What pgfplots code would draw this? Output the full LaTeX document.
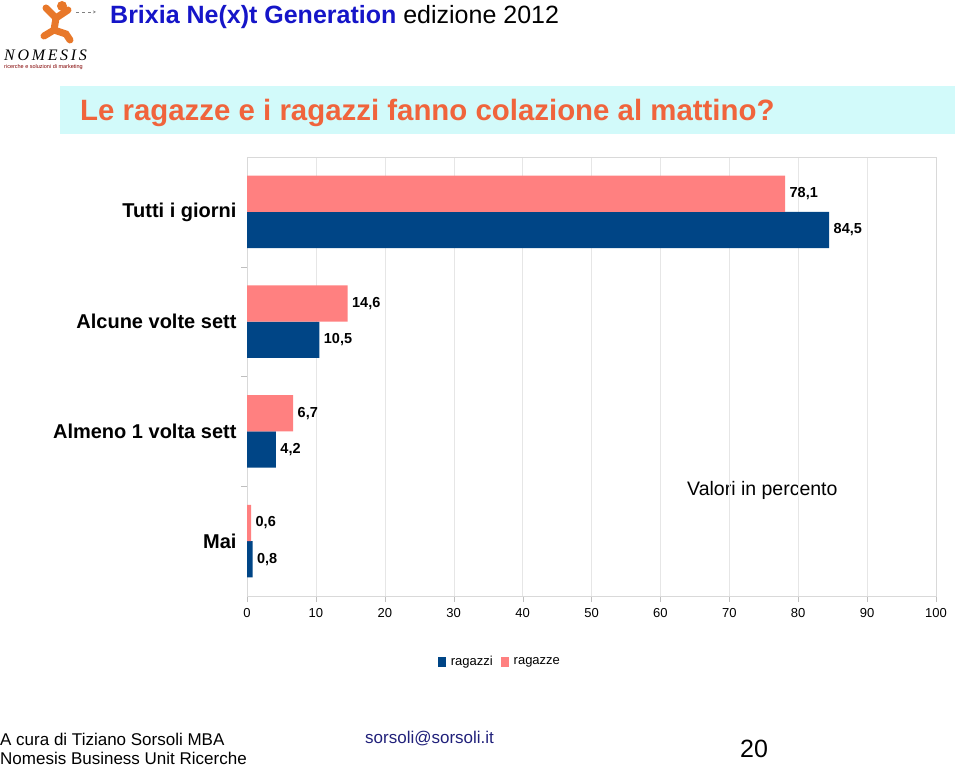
\documentclass[border=0pt]{standalone}
\usepackage{fontspec}
\setmainfont{Liberation Sans}
\newfontfamily\logofont{Liberation Serif}
\usepackage{pgfplots}
\pgfplotsset{compat=1.18}

\definecolor{ragazzi}{HTML}{004586}
\definecolor{ragazze}{HTML}{FF8080}
\definecolor{titleorange}{HTML}{F0643C}
\definecolor{banner}{HTML}{D2FAFA}
\definecolor{headblue}{HTML}{1515C8}
\definecolor{mailblue}{HTML}{20207A}
\definecolor{gridgray}{HTML}{E6E6E6}
\definecolor{logoorange}{HTML}{E8782A}

\newcommand{\fs}[1]{\fontsize{#1}{#1}\selectfont}

\begin{document}
\begin{tikzpicture}
\begin{scope}[x=1pt,y=1pt]
\path (0,0) rectangle (960,766);

% intestazione
\draw[logoorange, line width=7pt, line cap=round] (46,758) -- (56,748) -- (68,756);
\draw[logoorange, line width=7pt, line cap=round] (56,748) -- (54,736) -- (44,730);
\draw[logoorange, line width=7pt, line cap=round] (54,736) -- (66,732) -- (70,726);
\fill[logoorange] (62,760) circle (5);
\draw[gray, dashed, -stealth] (76,754) -- (96,754);
\node[anchor=west, inner sep=0, font=\logofont\itshape\fs{16}] at (4,711) {N\,O\,M\,E\,S\,I\,S};
\node[anchor=west, inner sep=0, text=red!50!black, font=\fs{5.5}] at (4,699) {ricerche e soluzioni di marketing};
\node[anchor=west, inner sep=0, text=headblue, font=\bfseries\fs{25}] at (110,749)
  {Brixia Ne(x)t Generation \mdseries\color{black}edizione 2012};

% titolo
\fill[banner] (60,632) rectangle (955,680);
\node[anchor=west, inner sep=0, text=titleorange, font=\bfseries\fs{29.4}] at (80,653)
  {Le ragazze e i ragazzi fanno colazione al mattino?};

\node[anchor=west, inner sep=0, font=\fs{19.5}] at (687,276) {Valori in percento};

% piede
\node[anchor=west, inner sep=0, font=\fs{17}] at (0,27) {A cura di Tiziano Sorsoli MBA};
\node[anchor=west, inner sep=0, font=\fs{17}] at (0,8) {Nomesis Business Unit Ricerche};
\node[anchor=west, inner sep=0, text=mailblue, font=\fs{17}] at (365,27) {sorsoli@sorsoli.it};
\node[anchor=west, inner sep=0, font=\fs{25}] at (740,17) {20};
\end{scope}

\begin{axis}[
    at={(247pt,170pt)}, anchor=south west,
    scale only axis,
    width=689pt, height=439pt,
    xbar,
    bar width=0.33,
    xmin=0, xmax=100,
    ymin=0.5, ymax=4.5,
    xtick={0,10,...,100},
    xtick pos=bottom,
    ytick={1.5,2.5,3.5},
    yticklabels={},
    ytick pos=left,
    extra y ticks={1,2,3,4},
    extra y tick labels={Mai,Almeno 1 volta sett,Alcune volte sett,Tutti i giorni},
    extra y tick style={major tick length=0pt},
    tick align=outside,
    major tick length=6pt,
    tick style={gray!50},
    xmajorgrids,
    grid style={gridgray},
    axis line style={gray!30},
    /pgf/number format/assume math mode=true,
    xticklabel style={font=\fs{13}, yshift=-3pt},
    yticklabel style={font=\bfseries\fs{20}, xshift=-7pt},
    point meta=x,
    nodes near coords,
    nodes near coords style={font=\bfseries\fs{14.5}, anchor=west, xshift=1pt,
      /pgf/number format/.cd, fixed, fixed zerofill, precision=1, use comma},
    legend style={at={(0.367,-0.15)}, anchor=center, draw=none,
      font=\fs{13}, legend columns=2,
      /tikz/every odd column/.append style={column sep=3pt},
      /tikz/every even column/.append style={column sep=6pt}},
    legend image code/.code={\fill[#1] (-4pt,-5pt) rectangle (4pt,5pt);},
]
\addplot[fill=ragazzi, draw=none, bar shift=-0.165] coordinates {
    (84.5,4) (10.5,3) (4.2,2) (0.8,1)
};
\addlegendentry{ragazzi}
\addplot[fill=ragazze, draw=none, bar shift=0.165] coordinates {
    (78.1,4) (14.6,3) (6.7,2) (0.6,1)
};
\addlegendentry{ragazze}
\end{axis}
\end{tikzpicture}
\end{document}
